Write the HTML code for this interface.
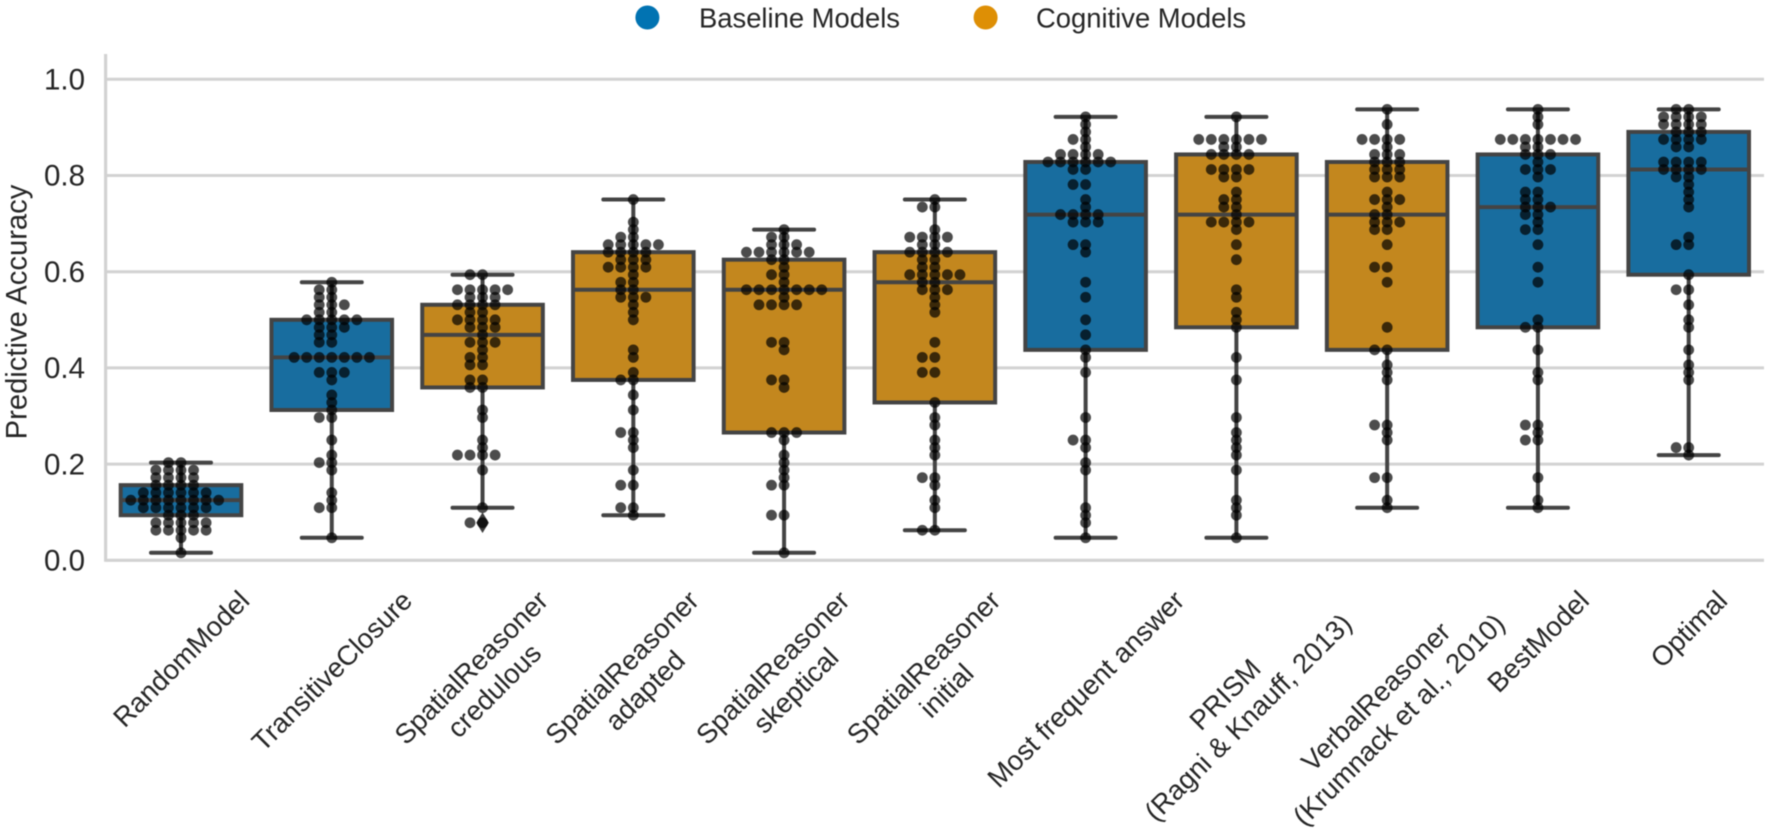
<!DOCTYPE html>
<html lang="en">
<head>
<meta charset="utf-8">
<title>Predictive Accuracy by Model</title>
<style>
  html, body { margin: 0; padding: 0; background: #fff; }
  body { width: 1772px; height: 832px; overflow: hidden; }
  svg { display: block; font-family: "Liberation Sans", sans-serif; fill: #262626; filter: blur(0.4px); }
</style>
</head>
<body>
<svg id="chart" xmlns="http://www.w3.org/2000/svg" width="1772" height="832" viewBox="0 0 1772 832">
  <rect x="0" y="0" width="1772" height="832" fill="#ffffff"/>
  <g id="grid"></g>
  <g id="boxes"></g>
  <g id="swarm"></g>
  <g id="axes"></g>
  <g>
    <g>
      <circle cx="647.4" cy="17.5" r="12" fill="#0173b2"/>
      <text x="699" y="27.5" font-size="27.4" fill="#262626">Baseline Models</text>
    </g>
    <g>
      <circle cx="985.6" cy="17.5" r="12" fill="#de8f05"/>
      <text x="1036" y="27.5" font-size="27.4" fill="#262626">Cognitive Models</text>
    </g>
  </g>
  <text transform="translate(26.7 312) rotate(-90)" text-anchor="middle" font-size="29.2" fill="#262626">Predictive Accuracy</text>
</svg>
<script>
// Accuracies are stored as correct answers out of 64 tasks.
const correctOutOf = 64;
const categories = [
  ["RandomModel"],
  ["TransitiveClosure"],
  ["SpatialReasoner", "credulous"],
  ["SpatialReasoner", "adapted"],
  ["SpatialReasoner", "skeptical"],
  ["SpatialReasoner", "initial"],
  ["Most frequent answer"],
  ["PRISM", "(Ragni & Knauff, 2013)"],
  ["VerbalReasoner", "(Krumnack et al., 2010)"],
  ["BestModel"],
  ["Optimal"]
];
const modelGroups = ["baseline", "baseline", "cognitive", "cognitive", "cognitive", "cognitive", "baseline", "cognitive", "cognitive", "baseline", "baseline"];
const yTickLabels = ["0.0", "0.2", "0.4", "0.6", "0.8", "1.0"];
const yTickValues = [0, 0.2, 0.4, 0.6, 0.8, 1];

const boxQ1 = [6, 20, 23, 24, 17, 21, 28, 31, 28, 31, 38];
const boxMedian = [8, 27, 30, 36, 36, 37, 46, 46, 46, 47, 52];
const boxQ3 = [10, 32, 34, 41, 40, 41, 53, 54, 53, 54, 57];
const whiskerLow = [1, 3, 7, 6, 1, 4, 3, 3, 7, 7, 14];
const whiskerHigh = [13, 37, 38, 48, 44, 48, 59, 59, 60, 60, 60];
const fliers = [[], [], [5], [], [], [], [], [], [], [], []];

const seriesRandomModel = [13,13,12,12,12,12,11,11,11,11,10,10,10,10,9,9,9,9,9,9,8,8,8,8,8,8,8,8,7,7,7,7,7,7,6,6,6,5,5,5,5,5,4,4,4,4,4,3,1];
const seriesTransitiveClosure = [37,36,36,35,35,34,34,34,33,33,32,32,32,32,32,31,31,31,30,30,29,29,27,27,27,27,27,27,27,25,25,25,24,22,21,20,19,19,16,14,13,13,12,9,8,7,7,3];
const seriesCredulous = [38,38,36,36,36,36,36,35,35,35,34,34,34,34,33,33,32,32,32,32,31,31,31,30,29,29,29,28,27,27,26,26,24,24,23,23,20,19,16,15,14,14,14,14,12,7,5,5];
const seriesAdapted = [48,45,44,43,43,42,42,42,42,42,41,41,41,41,40,40,40,39,39,39,39,38,37,37,36,36,35,35,35,34,33,32,28,27,25,24,24,22,20,17,17,16,15,12,10,10,7,7,6];
const seriesSkeptical = [44,43,43,42,42,42,41,41,41,41,41,41,40,40,39,38,38,37,36,36,36,36,36,36,36,35,34,34,34,34,29,29,28,24,24,23,17,17,17,16,14,13,12,11,10,10,6,6,1];
const seriesInitial = [48,47,47,44,43,43,43,43,42,42,41,41,41,41,40,40,39,39,38,38,38,38,38,37,37,36,36,36,35,34,33,29,27,27,25,25,21,19,18,16,15,14,11,11,10,8,7,4,4];
const seriesMostFrequent = [59,58,57,56,56,55,54,54,54,54,53,53,53,53,53,53,52,52,50,50,48,47,46,46,46,46,45,45,45,42,42,41,37,35,32,30,28,27,25,19,16,16,15,13,12,7,6,5,3];
const seriesPrism = [59,56,56,56,56,56,56,55,55,54,54,54,54,52,52,52,52,51,51,49,48,48,47,47,46,45,45,45,45,44,42,40,36,35,33,32,31,27,24,19,17,16,15,14,12,8,7,6,3];
const seriesVerbal = [60,58,56,56,56,56,55,54,54,54,53,53,53,52,52,52,51,51,51,49,48,48,48,47,46,46,45,45,45,44,44,42,39,39,37,31,28,28,26,25,24,18,18,17,16,11,11,8,7];
const seriesBestModel = [60,59,58,56,56,56,56,56,56,56,55,55,54,54,54,53,52,52,52,51,49,49,48,48,47,47,47,46,46,45,44,44,42,39,37,32,31,31,28,25,24,18,18,17,16,16,11,8,7];
const seriesOptimal = [60,60,59,59,59,59,58,58,58,58,57,57,57,56,56,56,56,55,55,53,53,53,53,52,52,52,52,51,51,50,49,48,47,43,42,42,38,36,36,34,32,31,28,26,25,24,15,15,14];

const allSeries = [seriesRandomModel, seriesTransitiveClosure, seriesCredulous, seriesAdapted, seriesSkeptical, seriesInitial, seriesMostFrequent, seriesPrism, seriesVerbal, seriesBestModel, seriesOptimal];

const SVG_NS = "http://www.w3.org/2000/svg";
const plotLeft = 105.6, plotRight = 1764, plotTop = 54, plotBottom = 560.3;
const groupFill = { baseline: "#186d9f", cognitive: "#c3871e" };
const strokeGray = "#444444";

function xScale(i) { return 181 + 150.77 * i; }
function yScale(v) { return 560.3 - 481 * v; }
function yCorrect(k) { return yScale(k / correctOutOf); }

function make(tag, attrs, parent) {
  const el = document.createElementNS(SVG_NS, tag);
  for (const key in attrs) el.setAttribute(key, attrs[key]);
  parent.appendChild(el);
  return el;
}

const gridLayer = document.getElementById("grid");
const boxLayer = document.getElementById("boxes");
const swarmLayer = document.getElementById("swarm");
const axesLayer = document.getElementById("axes");

yTickValues.forEach(function (v, i) {
  if (v > 0) {
    const line = make("line", { x1: plotLeft, x2: plotRight, y1: yScale(v), y2: yScale(v), stroke: "#d2d2d2", "stroke-width": 3 }, gridLayer);
    
    
  }
  const label = make("text", { x: 85, y: yScale(v) + 10.2, "text-anchor": "end", "font-size": 29.5, fill: "#262626" }, axesLayer);
  label.textContent = yTickLabels[i];
  
  
});

const leftSpine = make("line", { x1: plotLeft, x2: plotLeft, y1: plotTop, y2: plotBottom + 1.5, stroke: "#d2d2d2", "stroke-width": 3.2 }, axesLayer);


const bottomSpine = make("line", { x1: plotLeft, x2: plotRight, y1: plotBottom, y2: plotBottom, stroke: "#d2d2d2", "stroke-width": 3.2 }, axesLayer);



categories.forEach(function (lines, i) {
  const cx = xScale(i);
  const boxW = 120.6, capW = 60;
  const top = yCorrect(boxQ3[i]), bottom = yCorrect(boxQ1[i]), mid = yCorrect(boxMedian[i]);
  const hi = yCorrect(whiskerHigh[i]), lo = yCorrect(whiskerLow[i]);

  const whiskerUp = make("line", { x1: cx, x2: cx, y1: top, y2: hi, stroke: strokeGray, "stroke-width": 4 }, boxLayer);
  
  
  const whiskerDown = make("line", { x1: cx, x2: cx, y1: bottom, y2: lo, stroke: strokeGray, "stroke-width": 4 }, boxLayer);
  
  
  const capUp = make("line", { x1: cx - capW / 2, x2: cx + capW / 2, y1: hi, y2: hi, stroke: strokeGray, "stroke-width": 4, "stroke-linecap": "round" }, boxLayer);
  
  
  const capDown = make("line", { x1: cx - capW / 2, x2: cx + capW / 2, y1: lo, y2: lo, stroke: strokeGray, "stroke-width": 4, "stroke-linecap": "round" }, boxLayer);
  
  

  const box = make("rect", { x: cx - boxW / 2, y: top, width: boxW, height: bottom - top, fill: groupFill[modelGroups[i]], stroke: strokeGray, "stroke-width": 4 }, boxLayer);
  
  
  const median = make("line", { x1: cx - boxW / 2, x2: cx + boxW / 2, y1: mid, y2: mid, stroke: strokeGray, "stroke-width": 4 }, boxLayer);
  
  

  fliers[i].forEach(function (k) {
    const fy = yCorrect(k);
    const flier = make("polygon", { points: [cx, fy - 10.3, cx + 6.3, fy, cx, fy + 10.3, cx - 6.3, fy].join(" "), fill: "#3c3c3c" }, boxLayer);
    
    
  });

  // Swarm: repeated values spread sideways in the order 0, -1, +1, -2, +2 ...
  const seen = {};
  allSeries[i].forEach(function (k) {
    const n = seen[k] || 0;
    seen[k] = n + 1;
    const slot = n === 0 ? 0 : (n % 2 === 1 ? -(n + 1) / 2 : n / 2);
    const dot = make("circle", { cx: cx + slot * 12.55, cy: yCorrect(k), r: 5.4, fill: "#000000", "fill-opacity": 0.7 }, swarmLayer);
    
    
  });

  // x tick label: rotated block whose bounding box is centred on the tick.
  const fontSize = 27.5, lineHeight = 32.5, labelTop = 584;
  const group = make("g", {}, axesLayer);
  
  
  let longest = 0;
  lines.forEach(function (txt, j) {
    const t = make("text", { x: 0, y: (j - (lines.length - 1) / 2) * lineHeight + fontSize * 0.35, "text-anchor": "middle", "font-size": fontSize, fill: "#262626" }, group);
    t.textContent = txt;
    
    
    longest = Math.max(longest, t.getComputedTextLength());
  });
  const extent = (longest + lines.length * lineHeight) * Math.SQRT1_2;
  group.setAttribute("transform", "translate(" + cx + " " + (labelTop + extent / 2) + ") rotate(-45)");
});
</script>
</body>
</html>
